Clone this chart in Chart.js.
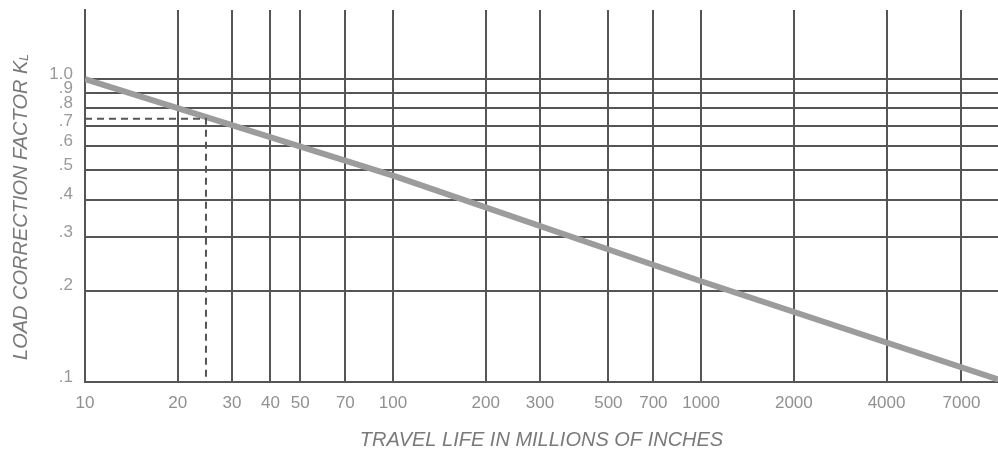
<!DOCTYPE html>
<html>
<head>
<meta charset="utf-8">
<script src="https://cdn.jsdelivr.net/npm/chart.js@4"></script>
<style>
  html, body { margin: 0; padding: 0; background: #fff; }
  #wrap { width: 998px; height: 451px; }
</style>
</head>
<body>
<div id="wrap"><canvas id="chart" width="998" height="451"></canvas></div>
<script>
// travel life axis (millions of inches)
const xTicks = [10, 20, 30, 40, 50, 70, 100, 200, 300, 500, 700, 1000, 2000, 4000, 7000];
const xTickLabels = ['10', '20', '30', '40', '50', '70', '100', '200', '300', '500', '700', '1000', '2000', '4000', '7000'];

// load correction factor axis
const yTicks = [0.1, 0.2, 0.3, 0.4, 0.5, 0.6, 0.7, 0.8, 0.9, 1.0];
const yTickLabels = ['.1', '.2', '.3', '.4', '.5', '.6', '.7', '.8', '.9', '1.0'];

// correction curve
const lifeValues = [10, 100, 1000, 9200];
const factorValues = [1.0, 0.48, 0.215, 0.102];

// example reading (dashed)
const exampleLife = [10, 24.7, 24.7];
const exampleFactor = [0.74, 0.74, 0.1];

const xMin = 10, xMax = 9200;
const yMin = 0.1, yMax = 1.69;

const gridColor = '#555555';
const textColor = '#909090';

function toPoints(xs, ys) {
    return xs.map((x, i) => ({ x: x, y: ys[i] }));
}

// draws the axis titles (y title has a subscript L)
const axisTitles = {
    id: 'axisTitles',
    afterDraw(chart) {
        const ctx = chart.ctx;
        const area = chart.chartArea;
        ctx.save();
        ctx.fillStyle = '#7a7a7a';
        ctx.font = 'italic 20px "Liberation Sans", Arial, sans-serif';
        ctx.textBaseline = 'middle';
        ctx.textAlign = 'center';
        ctx.fillText('TRAVEL LIFE IN MILLIONS OF INCHES', (area.left + area.right) / 2, 440);

        // y title, rotated
        const main = 'LOAD CORRECTION FACTOR K';
        const sub = 'L';
        const mainW = ctx.measureText(main).width;
        ctx.font = 'italic 12px "Liberation Sans", Arial, sans-serif';
        const subW = ctx.measureText(sub).width;
        const total = mainW + subW;
        ctx.translate(21, 207);
        ctx.rotate(-Math.PI / 2);
        ctx.textAlign = 'left';
        ctx.font = 'italic 20px "Liberation Sans", Arial, sans-serif';
        ctx.fillText(main, -total / 2, 0);
        ctx.font = 'italic 12px "Liberation Sans", Arial, sans-serif';
        ctx.fillText(sub, -total / 2 + mainW, 4);
        ctx.restore();
    }
};

const ctx = document.getElementById('chart').getContext('2d');
const chart = new Chart(ctx, {
    type: 'line',
    data: {
        datasets: [
            {
                data: toPoints(exampleLife, exampleFactor),
                borderColor: gridColor,
                borderWidth: 2,
                borderDash: [7, 5],
                pointRadius: 0,
                tension: 0,
                fill: false
            },
            {
                data: toPoints(lifeValues, factorValues),
                borderColor: '#9c9c9c',
                borderWidth: 6,
                borderCapStyle: 'butt',
                borderJoinStyle: 'round',
                pointRadius: 0,
                tension: 0,
                fill: false
            }
        ]
    },
    options: {
        responsive: false,
        animation: false,
        layout: { padding: { top: 10, left: 0, right: 0, bottom: 0 } },
        plugins: {
            legend: { display: false },
            tooltip: { enabled: false }
        },
        scales: {
            x: {
                type: 'logarithmic',
                min: xMin,
                max: xMax,
                afterBuildTicks: (scale) => { scale.ticks = xTicks.map(v => ({ value: v })); },
                afterFit: (scale) => {
                    scale.height = 69;
                    scale.paddingLeft = 0;
                    scale.paddingRight = 0;
                },
                grid: { color: gridColor, lineWidth: 2, drawTicks: false },
                border: { color: gridColor, width: 2 },
                ticks: {
                    autoSkip: false,
                    maxRotation: 0,
                    padding: 11,
                    color: textColor,
                    font: { family: '"Liberation Sans", Arial, sans-serif', size: 17 },
                    callback: (value, index) => xTickLabels[index]
                }
            },
            y: {
                type: 'logarithmic',
                min: yMin,
                max: yMax,
                afterBuildTicks: (scale) => { scale.ticks = yTicks.map(v => ({ value: v })); },
                afterFit: (scale) => {
                    scale.width = 85;
                    scale.paddingTop = 0;
                    scale.paddingBottom = 0;
                },
                grid: { color: gridColor, lineWidth: 2, drawTicks: false },
                border: { color: gridColor, width: 2 },
                ticks: {
                    autoSkip: false,
                    padding: 12,
                    labelOffset: -5,
                    color: '#999',
                    font: { family: '"Liberation Sans", Arial, sans-serif', size: 17 },
                    callback: (value, index) => yTickLabels[index]
                }
            }
        }
    },
    plugins: [axisTitles]
});
</script>
</body>
</html>
